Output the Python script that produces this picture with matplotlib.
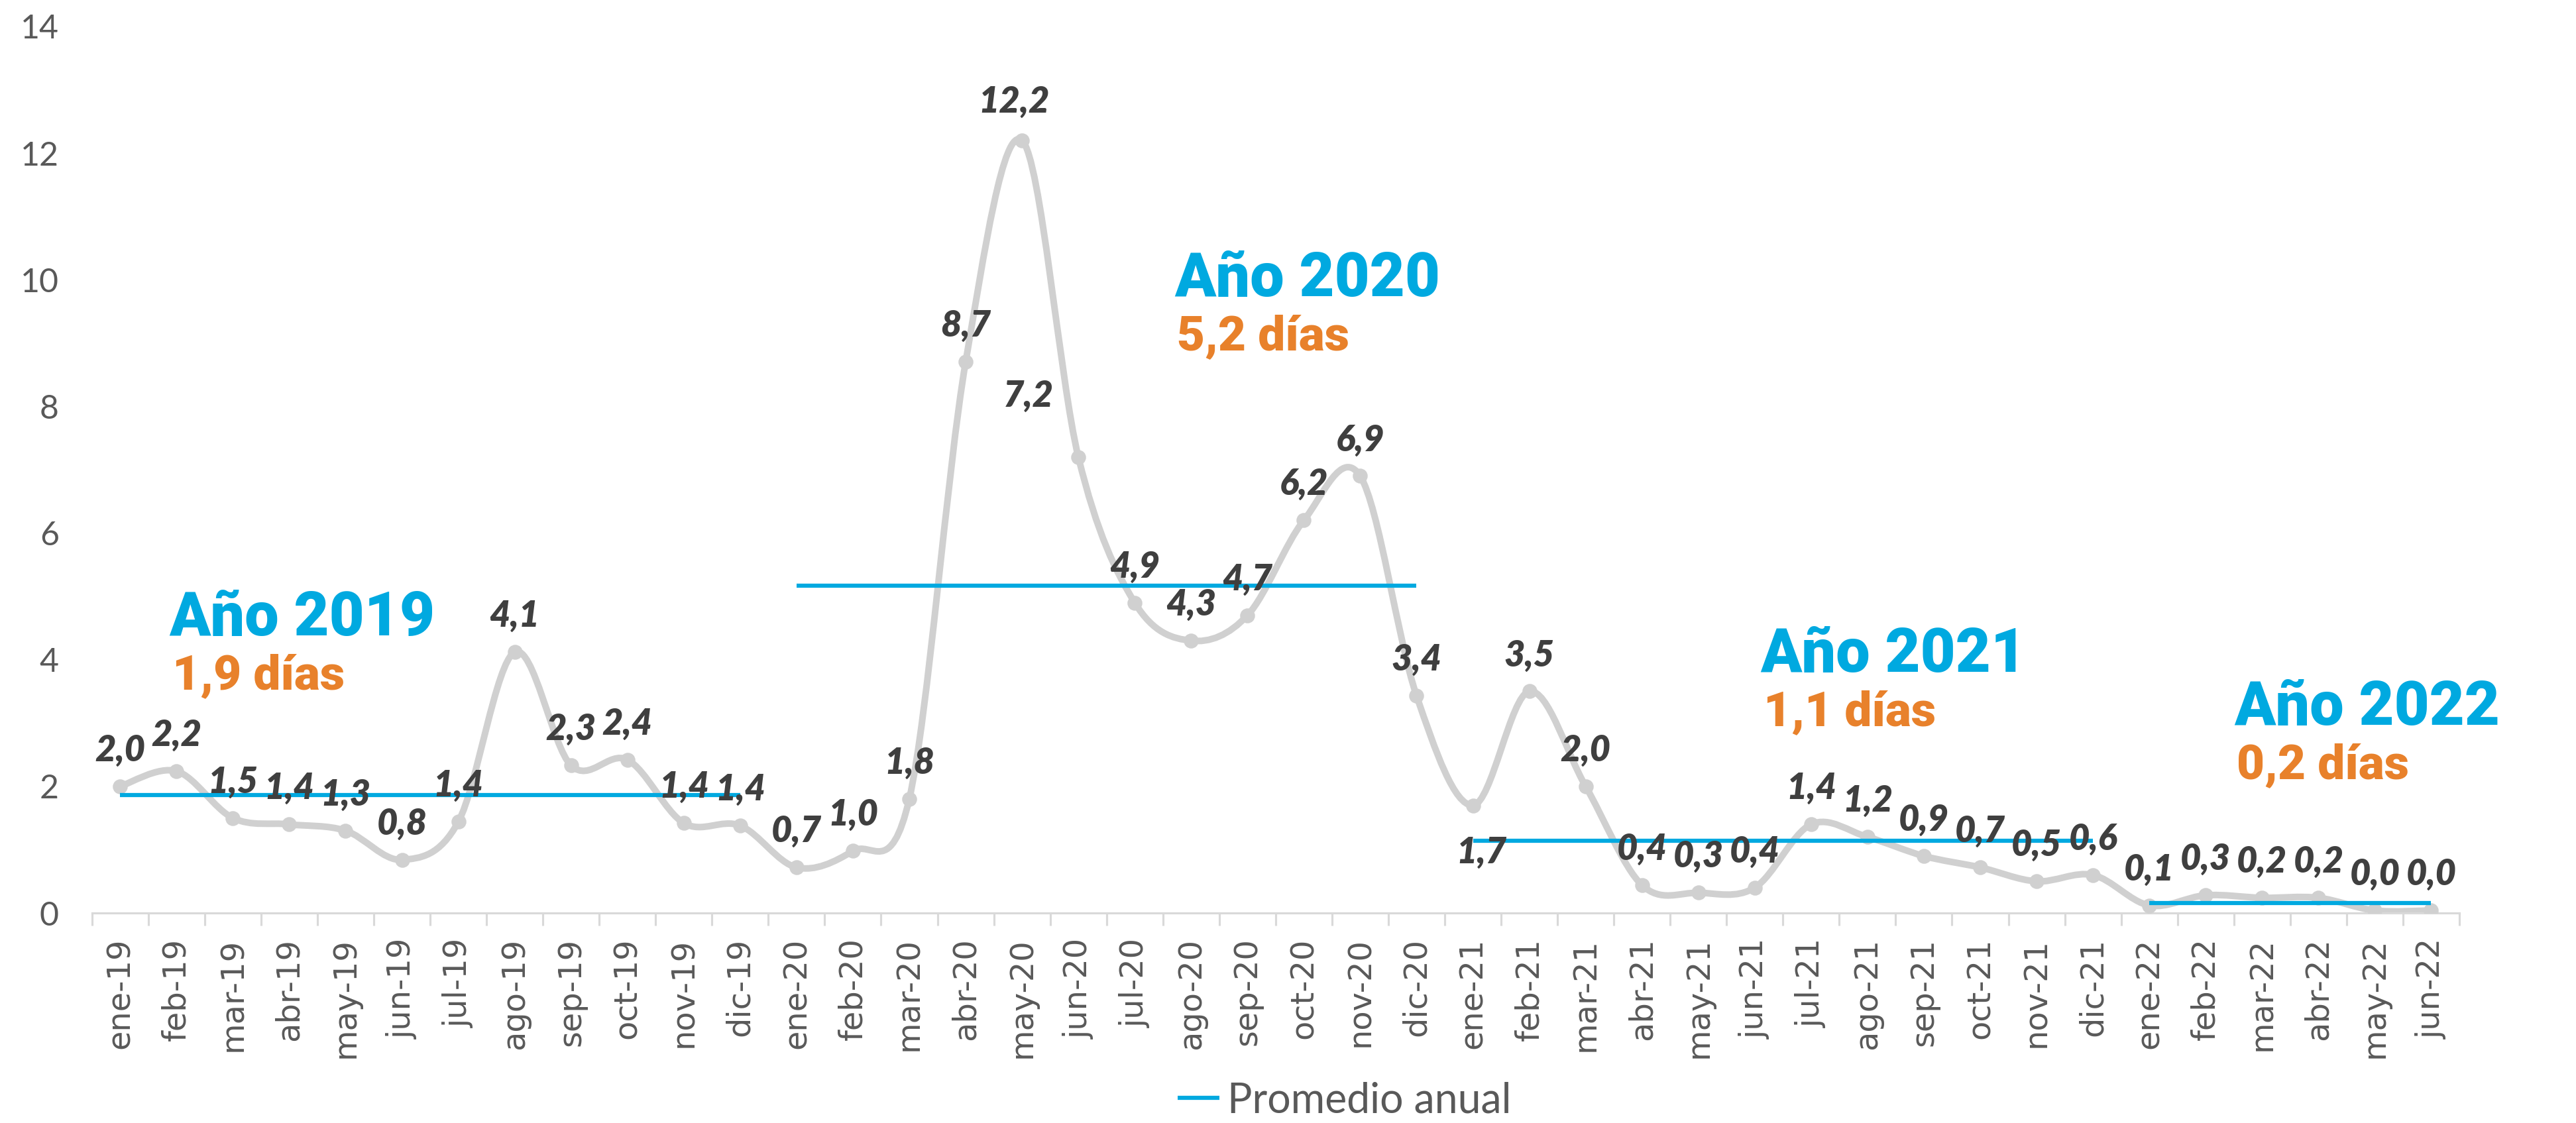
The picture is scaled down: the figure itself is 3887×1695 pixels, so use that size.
import numpy as np
import matplotlib
matplotlib.use("Agg")
import matplotlib.pyplot as plt
from matplotlib.path import Path
from matplotlib.patches import PathPatch

# monthly values (days)
dias_2019 = [2.00, 2.24, 1.50, 1.40, 1.30, 0.84, 1.44, 4.12, 2.33, 2.42, 1.42, 1.38]
dias_2020 = [0.72, 0.98, 1.80, 8.70, 12.20, 7.20, 4.90, 4.30, 4.70, 6.20, 6.90, 3.43]
dias_2021 = [1.70, 3.50, 2.00, 0.44, 0.32, 0.40, 1.40, 1.20, 0.90, 0.72, 0.50, 0.60]
dias_2022 = [0.12, 0.28, 0.24, 0.24, 0.04, 0.04]

anios = ["2019", "2020", "2021", "2022"]
series = [dias_2019, dias_2020, dias_2021, dias_2022]

meses = [
    "ene-19", "feb-19", "mar-19", "abr-19", "may-19", "jun-19",
    "jul-19", "ago-19", "sep-19", "oct-19", "nov-19", "dic-19",
    "ene-20", "feb-20", "mar-20", "abr-20", "may-20", "jun-20",
    "jul-20", "ago-20", "sep-20", "oct-20", "nov-20", "dic-20",
    "ene-21", "feb-21", "mar-21", "abr-21", "may-21", "jun-21",
    "jul-21", "ago-21", "sep-21", "oct-21", "nov-21", "dic-21",
    "ene-22", "feb-22", "mar-22", "abr-22", "may-22", "jun-22",
]
yticks = [0, 2, 4, 6, 8, 10, 12, 14]

# colours / fonts
GRIS_LINEA = "#D0D0D0"
AZUL = "#00A9E0"
NARANJA = "#E8812B"
GRIS_TEXTO = "#595959"
NARROW = ["Lato", "DejaVu Sans"]
BOLD = ["Roboto", "DejaVu Sans"]

# label offsets in points (default: centred above the point)
label_offsets = {"jun-20": (-18, 22), "ene-21": (3, -17), "may-20": (-3, 14)}
# where the yearly captions sit (x in month index, y in data units)
caption_pos = {"2019": (0.87, 4.38), "2020": (18.7, 9.74),
               "2021": (29.1, 3.81), "2022": (37.5, 2.97)}


def smooth_path(x, y):
    # Excel-like smoothed line: cubic bezier through every point
    pts = np.column_stack([x, y])
    n = len(pts)
    verts = [pts[0]]
    codes = [Path.MOVETO]
    for i in range(n - 1):
        p0 = pts[max(i - 1, 0)]
        p1 = pts[i]
        p2 = pts[i + 1]
        p3 = pts[min(i + 2, n - 1)]
        verts += [p1 + (p2 - p0) / 6, p2 - (p3 - p1) / 6, p2]
        codes += [Path.CURVE4] * 3
    return Path(verts, codes)


valores = np.concatenate([np.array(s) for s in series])
x = np.arange(len(valores))

fig = plt.figure(figsize=(3887 / 300, 1695 / 300), dpi=300)
ax = fig.add_axes([0.0357, 0.187, 0.919, 0.7895])

# smoothed gray line + markers
ax.add_patch(PathPatch(smooth_path(x, valores), facecolor="none",
                       edgecolor=GRIS_LINEA, lw=2.4, zorder=2,
                       capstyle="round", joinstyle="round"))
ax.plot(x, valores, "o", color=GRIS_LINEA, markersize=4.4, zorder=3)

# yearly averages
start = 0
for k, (anio, s) in enumerate(zip(anios, series)):
    prom = np.mean(s)
    ax.hlines(prom, start, start + len(s) - 1, color=AZUL, lw=1.5, zorder=4,
              label="Promedio anual" if k == 0 else None)
    cx, cy = caption_pos[anio]
    ax.text(cx, cy, f"Año {anio}", color=AZUL, fontsize=22, fontweight="heavy",
            family=BOLD, ha="left", va="baseline", zorder=6)
    ax.text(cx + 0.05, cy - 0.85, f"{prom:.1f}".replace(".", ",") + " días",
            color=NARANJA, fontsize=17.5, fontweight="heavy", family=BOLD,
            ha="left", va="baseline", zorder=6)
    start += len(s)

# data labels
for i, v in enumerate(valores):
    dx, dy = label_offsets.get(meses[i], (0, 13))
    ax.annotate(f"{v:.1f}".replace(".", ","), (i, v), xytext=(dx, dy),
                textcoords="offset points", ha="center", va="center",
                fontsize=13, fontweight="heavy", fontstyle="italic",
                color="#3F3F3F", family=NARROW, zorder=5)

# axes styling
ax.set_xlim(-0.5, len(valores) - 0.5)
ax.set_ylim(0, 14)
ax.set_yticks(yticks)
ax.set_yticklabels([str(t) for t in yticks], family=NARROW, fontsize=12,
                   color=GRIS_TEXTO)
ax.tick_params(axis="y", length=0, pad=12)
ax.set_xticks(x)
ax.set_xticklabels(meses, rotation=90, fontsize=11.5, color=GRIS_TEXTO,
                   family="DejaVu Sans")
ax.set_xticks(np.arange(-0.5, len(valores), 1), minor=True)
ax.tick_params(axis="x", which="major", length=0, pad=9)
ax.tick_params(axis="x", which="minor", length=4.5, width=0.75, color="#D9D9D9")
for side in ["top", "right", "left"]:
    ax.spines[side].set_visible(False)
ax.spines["bottom"].set_color("#D9D9D9")
ax.spines["bottom"].set_linewidth(0.75)

fig.legend(loc="center", bbox_to_anchor=(0.522, 0.02), frameon=False,
           prop={"family": NARROW, "size": 15}, labelcolor=GRIS_TEXTO,
           handlelength=1.0, handletextpad=0.2)

fig.savefig("out.png", dpi=300, facecolor="white")
